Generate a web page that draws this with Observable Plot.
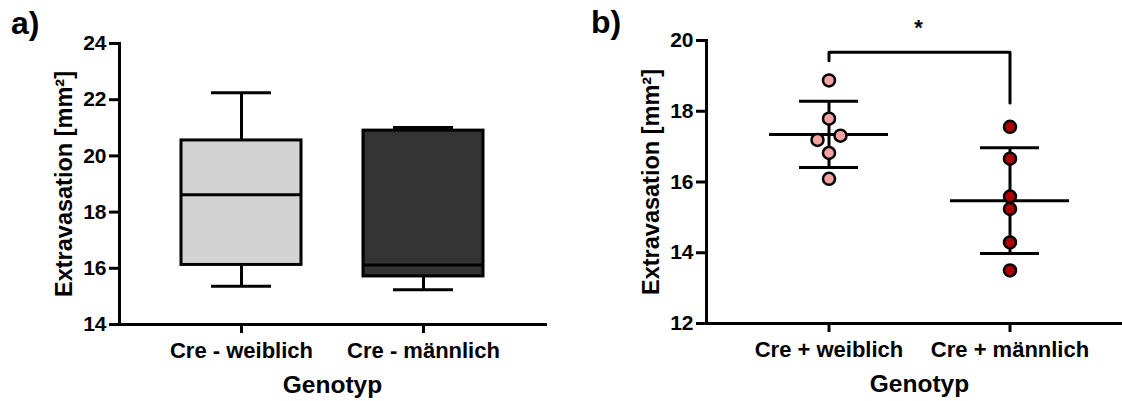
<!DOCTYPE html>
<html>
<head>
<meta charset="utf-8">
<script src="https://cdn.jsdelivr.net/npm/d3@7"></script>
<script src="https://cdn.jsdelivr.net/npm/@observablehq/plot@0.6"></script>
<style>
  body { margin: 0; background: #fff; font-family: "Liberation Sans", Arial, sans-serif; }
  #wrap { position: relative; width: 1122px; height: 401px; overflow: hidden; }
  .panel { position: absolute; top: 0; }
  .tag { position: absolute; font-weight: bold; font-size: 32px; line-height: 1; color: #000; }
</style>
</head>
<body>
<div id="wrap">
  <div id="panelA" class="panel" style="left:0px"></div>
  <div id="panelB" class="panel" style="left:561px"></div>
  <div class="tag" style="left:11px; top:7px">a)</div>
  <div class="tag" style="left:591px; top:6px">b)</div>
</div>
<script>
// ---------- data ----------
const groupsA = ["Cre - weiblich", "Cre - männlich"];
const boxMin    = [15.36, 15.24];
const boxQ1     = [16.12, 15.71];
const boxMedian = [18.62, 16.12];
const boxQ3     = [20.55, 20.90];
const boxMax    = [22.25, 21.01];

const groupsB = ["Cre + weiblich", "Cre + männlich"];
const weiblich  = [18.87, 17.79, 17.31, 17.19, 16.82, 16.09];
const maennlich = [17.56, 16.66, 15.59, 15.24, 14.29, 13.50];

const ticksA = [14, 16, 18, 20, 22, 24];
const ticksB = [12, 14, 16, 18, 20];
const yLabel = "Extravasation [mm²]";
const xLabel = "Genotyp";
const sigLabel = "*";
const bracketY = [19.43, 19.67, 18.23]; // left end, top bar, right end

// ---------- styles ----------
const fillA = ["#d3d3d3", "#333333"];
const fillB = ["#f4a2a2", "#b00000"];
const font = "font-family: 'Liberation Sans', Arial, sans-serif; font-weight: bold; color: #000; background: transparent; overflow: visible;";
const LW = 3;

// ---------- panel a ----------
const boxes = groupsA.map((g, i) => ({g, min: boxMin[i], q1: boxQ1[i], med: boxMedian[i], q3: boxQ3[i], max: boxMax[i]}));

const plotA = Plot.plot({
  width: 561, height: 401,
  marginLeft: 119, marginRight: 16, marginTop: 43, marginBottom: 77,
  style: font,
  x: {type: "band", domain: groupsA, padding: 0.34, label: null},
  y: {domain: [14, 24], label: null},
  color: {domain: groupsA, range: fillA},
  marks: [
    Plot.ruleX(boxes, {x: "g", y1: "min", y2: "q1", stroke: "#000", strokeWidth: LW}),
    Plot.ruleX(boxes, {x: "g", y1: "q3", y2: "max", stroke: "#000", strokeWidth: LW}),
    Plot.tickY(boxes, {x: "g", y: "min", stroke: "#000", strokeWidth: LW, insetLeft: 30, insetRight: 30}),
    Plot.tickY(boxes, {x: "g", y: "max", stroke: "#000", strokeWidth: LW, insetLeft: 30, insetRight: 30}),
    Plot.barY(boxes, {x: "g", y1: "q1", y2: "q3", fill: "g", stroke: "#000", strokeWidth: LW}),
    Plot.tickY(boxes, {x: "g", y: "med", stroke: "#000", strokeWidth: LW}),
    Plot.axisY({ticks: ticksA, tickSize: 10, tickPadding: 3, fontSize: 21, strokeWidth: LW, label: null}),
    Plot.axisX({tickSize: 9, tickPadding: 9, fontSize: 22, strokeWidth: LW, label: null}),
    Plot.frame({anchor: "left", strokeWidth: LW}),
    Plot.frame({anchor: "bottom", strokeWidth: LW}),
    Plot.text([yLabel], {text: d => d, frameAnchor: "left", textAnchor: "middle", lineAnchor: "middle", rotate: -90, dx: -55, fontSize: 23.5, fontWeight: "bold"}),
    Plot.text([xLabel], {text: d => d, frameAnchor: "bottom", lineAnchor: "middle", dy: 61, fontSize: 24.5, fontWeight: "bold"})
  ]
});
document.getElementById("panelA").append(plotA);

// ---------- panel b ----------
const seriesB = [weiblich, maennlich];
const pts = [];
seriesB.forEach((vals, gi) => {
  const sorted = vals.map(v => ({g: groupsB[gi], v})).sort((a, b) => a.v - b.v);
  // group near-coincident values and spread them symmetrically
  let cluster = [];
  const flush = () => {
    cluster.forEach((p, j) => { p.slot = j - (cluster.length - 1) / 2; pts.push(p); });
    cluster = [];
  };
  sorted.forEach(p => {
    if (cluster.length && p.v - cluster[cluster.length - 1].v >= 0.3) flush();
    cluster.push(p);
  });
  flush();
});
const slots = Array.from(new Set(pts.map(p => p.slot)));
const stats = groupsB.map((g, i) => ({g, mean: d3.mean(seriesB[i]), sd: d3.deviation(seriesB[i])}));
const bracket = [
  {g: groupsB[0], v: bracketY[0]},
  {g: groupsB[0], v: bracketY[1]},
  {g: groupsB[1], v: bracketY[1]},
  {g: groupsB[1], v: bracketY[2]}
];

const plotB = Plot.plot({
  width: 561, height: 401,
  marginLeft: 145, marginRight: 0, marginTop: 40, marginBottom: 78,
  style: font,
  x: {type: "band", domain: groupsB, paddingInner: 0.34, paddingOuter: 0.313, align: 0.544, label: null},
  y: {domain: [12, 20], label: null},
  color: {domain: groupsB, range: fillB},
  marks: [
    Plot.ruleX(stats, {x: "g", y1: d => d.mean - d.sd, y2: d => d.mean + d.sd, stroke: "#000", strokeWidth: LW}),
    Plot.tickY(stats, {x: "g", y: d => d.mean - d.sd, stroke: "#000", strokeWidth: LW, insetLeft: 30, insetRight: 30}),
    Plot.tickY(stats, {x: "g", y: d => d.mean + d.sd, stroke: "#000", strokeWidth: LW, insetLeft: 30, insetRight: 30}),
    Plot.tickY(stats, {x: "g", y: "mean", stroke: "#000", strokeWidth: LW}),
    ...slots.map(s => Plot.dot(pts.filter(p => p.slot === s), {x: "g", y: "v", dx: s * 23, r: 6, fill: "g", stroke: "#000", strokeWidth: 2.5})),
    Plot.line(bracket, {x: "g", y: "v", stroke: "#000", strokeWidth: LW}),
    Plot.text([sigLabel], {text: d => d, frameAnchor: "top", lineAnchor: "middle", dx: 4, dy: -13, fontSize: 22, fontWeight: "bold"}),
    Plot.axisY({ticks: ticksB, tickSize: 10, tickPadding: 3, fontSize: 21, strokeWidth: LW, label: null}),
    Plot.axisX({tickSize: 9, tickPadding: 9, fontSize: 22, strokeWidth: LW, label: null}),
    Plot.frame({anchor: "left", strokeWidth: LW}),
    Plot.frame({anchor: "bottom", strokeWidth: LW}),
    Plot.text([yLabel], {text: d => d, frameAnchor: "left", textAnchor: "middle", lineAnchor: "middle", rotate: -90, dx: -55, fontSize: 23.5, fontWeight: "bold"}),
    Plot.text([xLabel], {text: d => d, frameAnchor: "bottom", lineAnchor: "middle", dx: 5, dy: 61, fontSize: 24.5, fontWeight: "bold"})
  ]
});
document.getElementById("panelB").append(plotB);
</script>
</body>
</html>
